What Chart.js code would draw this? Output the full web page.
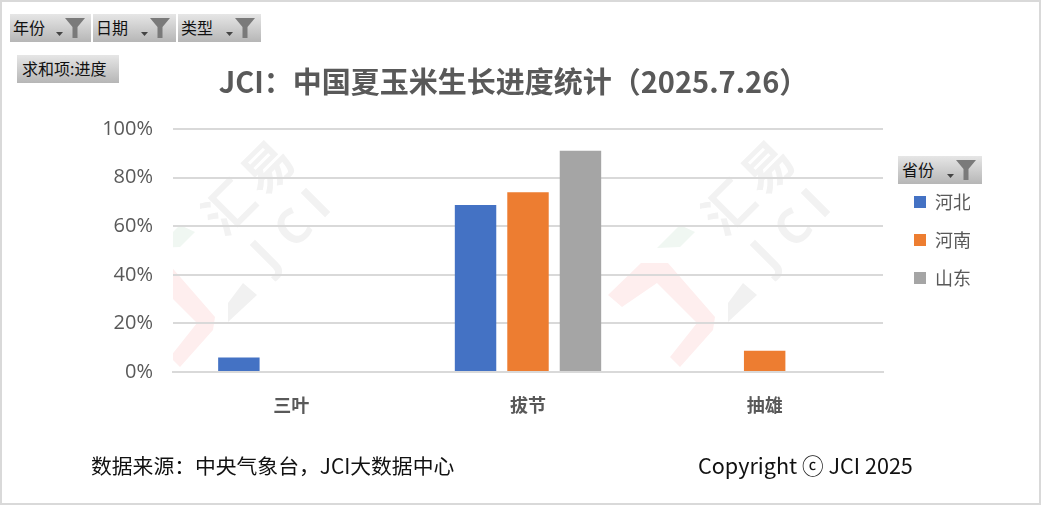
<!DOCTYPE html>
<html lang="zh">
<head>
<meta charset="utf-8">
<title>JCI</title>
<script src="https://cdn.jsdelivr.net/npm/chart.js@4/dist/chart.umd.min.js"></script>
<style>
  html, body { margin: 0; padding: 0; background: #fff; }
  #wrap { position: relative; width: 1041px; height: 505px; overflow: hidden; font-family: "Noto Sans CJK SC", sans-serif; }
  #frame { position: absolute; left: 0; top: 0; width: 1037px; height: 501px; border: 2px solid #d9d9d9; pointer-events: none; }
  canvas { position: absolute; left: 0; top: 0; }
  .btn { position: absolute; height: 28px; line-height: 27px; font-size: 16px; color: #111; padding-left: 3px; box-sizing: border-box;
         background: linear-gradient(#e6e6e6, #b6b6b6); white-space: nowrap; }
  .btn svg { position: absolute; right: 5px; top: 4px; }
  .foot { position: absolute; top: 450px; font-size: 20.8px; line-height: 30px; color: #111; white-space: nowrap; }
</style>
</head>
<body>
<div id="wrap">
  <canvas id="jci" width="1041" height="505"></canvas>
  <div id="frame"></div>
  <div class="btn filter" style="left:10px;top:14px;width:81px">年份</div>
  <div class="btn filter" style="left:93px;top:14px;width:83px">日期</div>
  <div class="btn filter" style="left:178px;top:14px;width:83px">类型</div>
  <div class="btn" style="left:17px;top:55px;width:102px;padding-left:5px">求和项:进度</div>
  <div class="btn filter" style="left:898px;top:156px;width:84px;padding-left:4px">省份</div>
  <div class="foot" style="left:91px">数据来源：中央气象台，JCI大数据中心</div>
  <div class="foot" style="left:698px;font-size:21.6px">Copyright ⓒ JCI 2025</div>
</div>
<script>
const categories = ["三叶", "拔节", "抽雄"];
const hebei = [6, 68.7, null];
const henan = [null, 74, 8.7];
const shandong = [null, 91, null];
const greyText = "#595959";
const cjkFont = '"Noto Sans CJK SC", sans-serif';

// funnel icon on the filter buttons
document.querySelectorAll(".filter").forEach(function (b) {
  b.insertAdjacentHTML("beforeend",
    '<svg width="30" height="20" viewBox="0 0 30 20">' +
    '<path d="M0 14h7l-3.5 4z" fill="#444"/>' +
    '<path d="M9 0h20l-7.5 9v11h-5V9z" fill="#7a7a7a"/></svg>');
});

// faint logo behind the plot, the same picture twice
function drawMark(c, dx) {
  const poly = function (pts, col) {
    c.fillStyle = col;
    c.beginPath();
    pts.forEach(function (p, i) { i ? c.lineTo(p[0] + dx, p[1]) : c.moveTo(p[0] + dx, p[1]); });
    c.closePath();
    c.fill();
  };
  poly([[608,295],[641,263],[668,263],[715,317],[713,330],[680,367],[670,357],[697,323],[657,283],[622,307]], "#feeeee");
  poly([[743,283],[757,295],[728,322],[728,303]], "#f1f1f1");
  poly([[680,225],[695,232],[680,247],[657,248]], "#f0f7f2");
  c.fillStyle = "#f2f2f2";
  c.textAlign = "center";
  c.textBaseline = "middle";
  const put = function (t, x, y, font) {
    c.save();
    c.translate(x + dx, y);
    c.rotate(-Math.PI / 4);
    c.font = font;
    c.fillText(t, 0, 0);
    c.restore();
  };
  const han = 'bold 50px ' + cjkFont, lat = 'bold 48px "Open Sans", sans-serif';
  put("汇", 728, 207, han);
  put("易", 767, 167, han);
  put("J", 767, 257, lat);
  put("C", 795, 230, lat);
  put("I", 818, 205, lat);
}

const jciPlugin = {
  id: "jciPlugin",
  beforeDraw: function (chart) {
    const c = chart.ctx;
    c.save();
    c.beginPath();
    c.rect(173, 120, 400, 260);
    c.clip();
    drawMark(c, -500);
    c.restore();
    c.save();
    drawMark(c, 0);
    c.restore();
  },
  afterLayout: function (chart) {
    // title is centred left of the canvas middle, legend sits under its button
    chart.titleBlock.left = 0;
    chart.titleBlock.right = 1027;
    chart.legend.left = 894;
    chart.legend.top = 173;
  }
};

new Chart(document.getElementById("jci").getContext("2d"), {
  type: "bar",
  plugins: [jciPlugin],
  data: {
    labels: categories,
    datasets: [
      { label: "河北", data: hebei, backgroundColor: "#4472c4" },
      { label: "河南", data: henan, backgroundColor: "#ed7d31" },
      { label: "山东", data: shandong, backgroundColor: "#a5a5a5" }
    ]
  },
  options: {
    responsive: false,
    animation: false,
    categoryPercentage: 0.665,
    barPercentage: 0.79,
    layout: { padding: { right: 71 } },
    plugins: {
      tooltip: { enabled: false },
      title: {
        display: true,
        text: "JCI：中国夏玉米生长进度统计（2025.7.26）",
        color: greyText,
        font: { family: cjkFont, size: 29, weight: "bold" },
        padding: { top: 65, bottom: 29.2 }
      },
      legend: {
        position: "right",
        align: "start",
        labels: {
          boxWidth: 12,
          boxHeight: 12,
          padding: 20,
          color: greyText,
          font: { family: cjkFont, size: 18 }
        }
      }
    },
    scales: {
      x: {
        grid: { display: false, drawTicks: false },
        border: { color: "#d9d9d9", width: 2 },
        ticks: { color: greyText, padding: 22, font: { family: cjkFont, size: 18, weight: "bold" } },
        afterFit: function (s) { s.height = 133; }
      },
      y: {
        min: 0,
        max: 100,
        grid: { color: "#d9d9d9", lineWidth: 2, drawTicks: false },
        border: { display: false },
        ticks: {
          stepSize: 20,
          color: greyText,
          padding: 20,
          font: { family: '"Open Sans", sans-serif', size: 20 },
          callback: function (v) { return v + "%"; }
        },
        afterFit: function (s) { s.width = 173; }
      }
    }
  }
});
</script>
</body>
</html>
